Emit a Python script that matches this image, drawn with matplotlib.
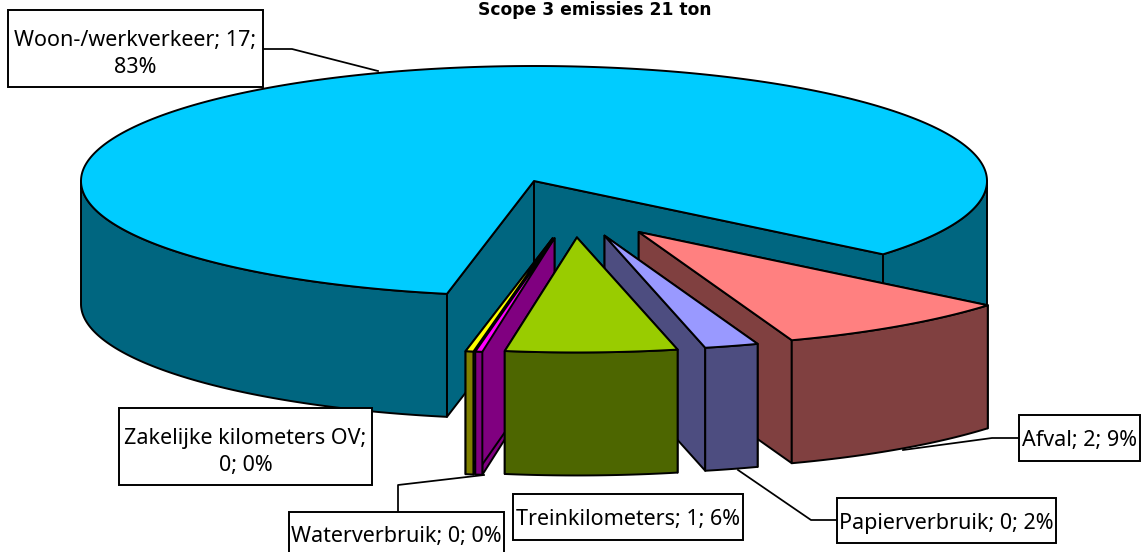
import numpy as np
import matplotlib
matplotlib.use("Agg")
import matplotlib.pyplot as plt
from matplotlib.patches import Polygon, Rectangle

# -----------------------------
# Data (clockwise from the start angle)
# -----------------------------
TITLE = "Scope 3 emissies 21 ton"
names = ["Afval", "Papierverbruik", "Treinkilometers", "Waterverbruik",
         "Zakelijke kilometers OV", "Woon-/werkverkeer"]
values = [1.762, 0.397, 1.265, 0.052, 0.058, 17.16]

tops = ["#FF8080", "#9999FF", "#99CC00", "#FF00FF", "#FFFF00", "#00CCFF"]
sides = ["#804040", "#4D4D80", "#4D6600", "#800080", "#808000", "#006680"]

# -----------------------------
# Layout, in pixels
# -----------------------------
W, H = 1145, 552
CX, CY = 534, 181     # centre of the pie top
RX, RY = 453, 115     # radii of the top ellipse
DEPTH = 123
START = 39.6          # degrees clockwise from 3 o'clock
EXPLODE = 0.5
LW = 1.4

# box x0, y0, x1, y1, same order as names (the water box runs off the bottom)
boxes = [(1019, 415, 1140, 461), (837, 498, 1056, 543), (513, 494, 743, 540),
         (289, 512, 504, 556), (119, 408, 372, 485), (8, 10, 263, 87)]
breaks = [None, None, None, None, 1, 2]   # where the label wraps
leaders = [
    [(1019, 438), (992, 438), (903, 450)],
    [(837, 520), (811, 520), (738, 470)],
    None,
    [(398, 512), (398, 485), (484, 475)],
    None,
    [(263, 49), (292, 49), (378, 71)],
]

fig = plt.figure(figsize=(W / 100, H / 100), dpi=100)
ax = fig.add_axes([0, 0, 1, 1])
ax.set_xlim(0, W)
ax.set_ylim(H, 0)
ax.axis("off")


def poly(points, color):
    ax.add_patch(Polygon(points, closed=True, facecolor=color, edgecolor="black",
                         linewidth=LW, joinstyle="round"))


def rim(ox, oy, a1, a2, dz=0):
    t = np.radians(np.linspace(a1, a2, max(int(abs(a2 - a1) * 2), 2)))
    return np.column_stack([ox + RX * np.cos(t), oy + RY * np.sin(t) + dz])


def draw_slice(a1, a2, top, side, exploded):
    ox, oy = CX, CY
    if exploded:
        # the chart pulls slices out along a narrowed fan of directions
        mid = (a1 + a2) / 2
        d = np.radians(35 + 0.5 * mid)
        ox += EXPLODE * RX * np.cos(d)
        oy += EXPLODE * RY * np.sin(d)

    # cut faces
    for a in (a1, a2):
        p = rim(ox, oy, a, a)[0]
        poly([(ox, oy), p, (p[0], p[1] + DEPTH), (ox, oy + DEPTH)], side)

    # outer wall, only the part facing the viewer
    for k in (0, 1):
        lo, hi = max(a1, k * 360), min(a2, k * 360 + 180)
        if hi > lo:
            upper = rim(ox, oy, lo, hi)
            lower = rim(ox, oy, hi, lo, DEPTH)
            poly(np.vstack([upper, lower]), side)

    poly(np.vstack([[(ox, oy)], rim(ox, oy, a1, a2)]), top)


# -----------------------------
# Slices, back to front
# -----------------------------
total = sum(values)
ends = START + np.cumsum(values) / total * 360
starts = np.concatenate([[START], ends[:-1]])
mids = (starts + ends) / 2

largest = int(np.argmax(values))
order = sorted(range(len(values)), key=lambda i: -abs(mids[i] - 90))
order.remove(largest)
order.insert(0, largest)
for i in order:
    draw_slice(starts[i], ends[i], tops[i], sides[i], i != largest)

# -----------------------------
# Labels
# -----------------------------
for i, name in enumerate(names):
    x0, y0, x1, y1 = boxes[i]
    txt = f"{name}; {values[i]:.0f}; {values[i] / total * 100:.0f}%"
    if breaks[i] == 1:
        txt = f"{name};\n{values[i]:.0f}; {values[i] / total * 100:.0f}%"
    elif breaks[i] == 2:
        txt = f"{name}; {values[i]:.0f};\n{values[i] / total * 100:.0f}%"
    if leaders[i]:
        xs, ys = zip(*leaders[i])
        ax.plot(xs, ys, color="black", lw=LW * 0.9, zorder=4)
    ax.add_patch(Rectangle((x0, y0), x1 - x0, y1 - y0, facecolor="white",
                           edgecolor="black", linewidth=LW, zorder=5))
    ax.text((x0 + x1) / 2, (y0 + y1) / 2, txt, ha="center", va="center_baseline",
            family="Noto Sans", fontsize=15.5, linespacing=1.4, color="black", zorder=6)

ax.text(595, 10, TITLE, ha="center", va="center", family="DejaVu Sans",
        fontweight="bold", fontsize=12.3, color="black")

fig.savefig("out.png", dpi=100)
